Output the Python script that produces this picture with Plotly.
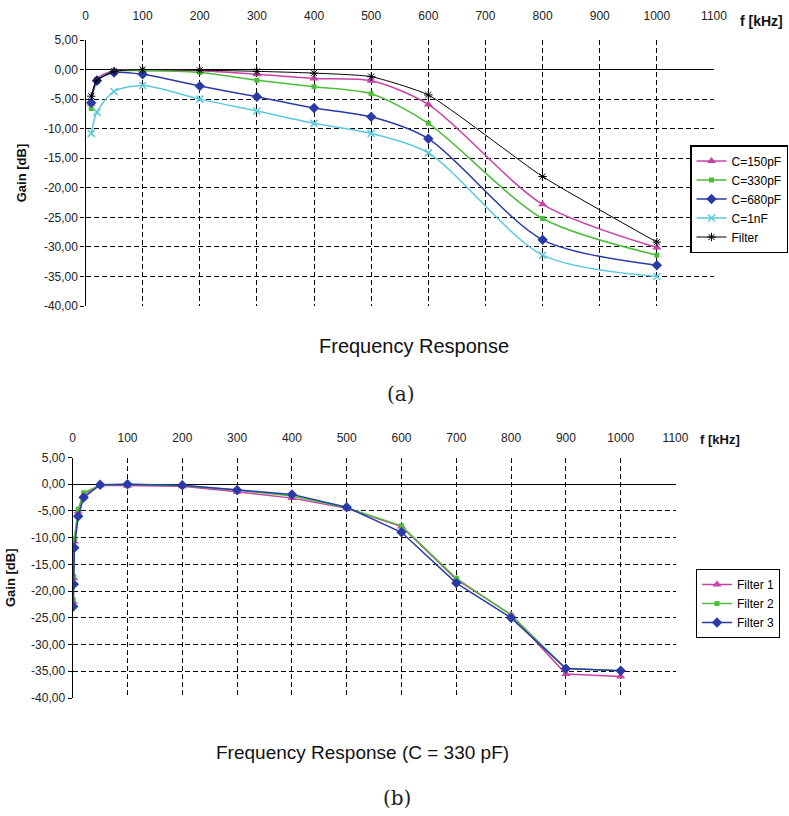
import plotly.graph_objects as go

# ---------------- data ----------------
freq_a = [10, 20, 50, 100, 200, 300, 400, 500, 600, 800, 1000]
gain_150pF = [-5.8, -1.6, -0.2, -0.1, -0.2, -0.8, -1.5, -1.9, -5.9, -22.8, -30.1]
gain_330pF = [-6.6, -2.0, -0.3, -0.2, -0.5, -1.8, -2.9, -4.1, -9.1, -25.2, -31.4]
gain_680pF = [-5.6, -1.9, -0.5, -0.8, -2.8, -4.6, -6.5, -8.0, -11.7, -28.8, -33.1]
gain_1nF = [-10.8, -7.2, -3.7, -2.7, -5.0, -7.0, -9.1, -10.8, -14.1, -31.4, -35.0]
gain_filter = [-4.5, -1.8, -0.3, 0.0, -0.1, -0.3, -0.6, -1.2, -4.3, -18.1, -29.2]

freq_b = [1, 2, 3, 10, 20, 50, 100, 200, 300, 400, 500, 600, 700, 800, 900, 1000]
gain_f1 = [-22.0, -17.6, -10.7, -5.1, -2.0, -0.2, -0.3, -0.4, -1.4, -2.6, -4.5, -7.9, -17.8, -24.4, -35.5, -36.0]
gain_f2 = [-21.6, -17.3, -10.2, -4.7, -1.6, -0.2, 0.0, -0.3, -1.1, -2.2, -4.4, -7.8, -17.6, -24.5, -34.5, -34.9]
gain_f3 = [-22.9, -18.7, -11.9, -6.0, -2.5, -0.1, 0.0, -0.2, -1.1, -1.9, -4.3, -9.0, -18.5, -25.0, -34.5, -34.9]

x_tick_vals = [0, 100, 200, 300, 400, 500, 600, 700, 800, 900, 1000, 1100]
x_tick_text = ["0", "100", "200", "300", "400", "500", "600", "700", "800", "900", "1000", "1100"]
x_grid_vals = [100, 200, 300, 400, 500, 600, 700, 800, 900, 1000]
y_tick_vals = [5, 0, -5, -10, -15, -20, -25, -30, -35, -40]
y_tick_text = ["5,00", "0,00", "-5,00", "-10,00", "-15,00", "-20,00", "-25,00", "-30,00", "-35,00", "-40,00"]
y_grid_vals = [-5, -10, -15, -20, -25, -30, -35]

# ---------------- geometry ----------------
W, H = 789, 816
FONT = "Arial, 'Liberation Sans', sans-serif"

def px_x(v):
    return v / W

def px_y(v):
    return 1 - v / H

dom_a_x = [px_x(85.5), px_x(714)]
dom_a_y = [px_y(306), px_y(40)]
dom_b_x = [px_x(72.7), px_x(675.5)]
dom_b_y = [px_y(698), px_y(457.5)]

MAG = "#C843A8"
GRN = "#4DBE3A"
BLU = "#2A3AA6"
CYN = "#5CC9DC"
GRID_DASH = "5px,3px"

fig = go.Figure()

# chart (a)
fig.add_trace(go.Scatter(x=freq_a, y=gain_150pF, name="C=150pF", mode="lines+markers",
                         line=dict(color=MAG, width=1.5, shape="spline", smoothing=0.8),
                         marker=dict(symbol="triangle-up", size=8, color=MAG),
                         xaxis="x", yaxis="y", legend="legend"))
fig.add_trace(go.Scatter(x=freq_a, y=gain_330pF, name="C=330pF", mode="lines+markers",
                         line=dict(color=GRN, width=1.5, shape="spline", smoothing=0.8),
                         marker=dict(symbol="square", size=5, color=GRN),
                         xaxis="x", yaxis="y", legend="legend"))
fig.add_trace(go.Scatter(x=freq_a, y=gain_680pF, name="C=680pF", mode="lines+markers",
                         line=dict(color=BLU, width=1.5, shape="spline", smoothing=0.8),
                         marker=dict(symbol="diamond", size=8, color=BLU),
                         xaxis="x", yaxis="y", legend="legend"))
fig.add_trace(go.Scatter(x=freq_a, y=gain_1nF, name="C=1nF", mode="lines+markers",
                         line=dict(color=CYN, width=1.5, shape="spline", smoothing=0.8),
                         marker=dict(symbol="x-thin-open", size=7, color=CYN, line=dict(color=CYN, width=1.5)),
                         xaxis="x", yaxis="y", legend="legend"))
fig.add_trace(go.Scatter(x=freq_a, y=gain_filter, name="Filter", mode="lines+markers",
                         line=dict(color="black", width=1, shape="spline", smoothing=0.5),
                         marker=dict(symbol="asterisk-open", size=7, color="black", line=dict(color="black", width=1)),
                         xaxis="x", yaxis="y", legend="legend"))

# chart (b)
fig.add_trace(go.Scatter(x=freq_b, y=gain_f1, name="Filter 1", mode="lines+markers",
                         line=dict(color=MAG, width=1.5),
                         marker=dict(symbol="triangle-up", size=8, color=MAG),
                         xaxis="x2", yaxis="y2", legend="legend2"))
fig.add_trace(go.Scatter(x=freq_b, y=gain_f2, name="Filter 2", mode="lines+markers",
                         line=dict(color=GRN, width=1.5),
                         marker=dict(symbol="square", size=5, color=GRN),
                         xaxis="x2", yaxis="y2", legend="legend2"))
fig.add_trace(go.Scatter(x=freq_b, y=gain_f3, name="Filter 3", mode="lines+markers",
                         line=dict(color=BLU, width=1.5),
                         marker=dict(symbol="diamond", size=8, color=BLU),
                         xaxis="x2", yaxis="y2", legend="legend2"))

# invisible carriers for the grid overlay axes
fig.add_trace(go.Scatter(x=[None], y=[None], xaxis="x3", yaxis="y3", showlegend=False, hoverinfo="skip"))
fig.add_trace(go.Scatter(x=[None], y=[None], xaxis="x4", yaxis="y4", showlegend=False, hoverinfo="skip"))

tickfont = dict(family=FONT, size=12, color="#222")

def main_x(domain, anchor, standoff):
    return dict(domain=domain, anchor=anchor, side="top", range=[0, 1100],
                tickmode="array", tickvals=x_tick_vals, ticktext=x_tick_text,
                showgrid=False, zeroline=False, showline=False, ticks="",
                ticklabelstandoff=standoff, tickfont=tickfont, automargin=False)

def main_y(domain, anchor, title_standoff):
    return dict(domain=domain, anchor=anchor, range=[-40, 5], automargin=False,
                tickmode="array", tickvals=y_tick_vals, ticktext=y_tick_text,
                showgrid=False, zeroline=True, zerolinecolor="black", zerolinewidth=1.3,
                showline=True, linecolor="black", linewidth=1.3,
                ticks="outside", ticklen=4, tickcolor="black",
                tickfont=tickfont,
                title=dict(text="<b>Gain [dB]</b>", font=dict(family=FONT, size=13, color="#111"),
                           standoff=title_standoff))

def grid_x(domain, overlay, anchor):
    return dict(domain=domain, overlaying=overlay, anchor=anchor, range=[0, 1100],
                tickmode="array", tickvals=x_grid_vals, showticklabels=False, ticks="",
                showgrid=True, gridcolor="black", griddash=GRID_DASH, gridwidth=1,
                zeroline=False, showline=False)

def grid_y(domain, overlay, anchor):
    return dict(domain=domain, overlaying=overlay, anchor=anchor, range=[-40, 5],
                tickmode="array", tickvals=y_grid_vals, showticklabels=False, ticks="",
                showgrid=True, gridcolor="black", griddash=GRID_DASH, gridwidth=1,
                zeroline=False, showline=False)

fig.update_layout(
    width=W, height=H,
    margin=dict(l=0, r=0, t=0, b=0, autoexpand=False),
    paper_bgcolor="white", plot_bgcolor="rgba(0,0,0,0)",
    font=dict(family=FONT, color="black"),
    xaxis=main_x(dom_a_x, "y", 17),
    yaxis=main_y(dom_a_y, "x", 14),
    xaxis2=main_x(dom_b_x, "y2", 12),
    yaxis2=main_y(dom_b_y, "x2", 12),
    xaxis3=grid_x(dom_a_x, "x", "y3"),
    yaxis3=grid_y(dom_a_y, "y", "x3"),
    xaxis4=grid_x(dom_b_x, "x2", "y4"),
    yaxis4=grid_y(dom_b_y, "y2", "x4"),
    legend=dict(x=px_x(690), y=px_y(145), xanchor="left", yanchor="top",
                bgcolor="white", bordercolor="black", borderwidth=1.5,
                font=dict(family=FONT, size=12, color="black"),
                itemwidth=30, tracegroupgap=0),
    legend2=dict(x=px_x(696), y=px_y(569), xanchor="left", yanchor="top",
                 bgcolor="white", bordercolor="black", borderwidth=1,
                 font=dict(family=FONT, size=12, color="black"),
                 itemwidth=30, tracegroupgap=0),
    annotations=[
        dict(text="<b>f [kHz]</b>", x=px_x(738), y=px_y(21), xref="paper", yref="paper",
             xanchor="left", yanchor="middle", showarrow=False,
             font=dict(family=FONT, size=14, color="#111")),
        dict(text="<b>f [kHz]</b>", x=px_x(698), y=px_y(439), xref="paper", yref="paper",
             xanchor="left", yanchor="middle", showarrow=False,
             font=dict(family=FONT, size=13, color="#111")),
        dict(text="Frequency Response", x=px_x(414), y=px_y(346), xref="paper", yref="paper",
             xanchor="center", yanchor="middle", showarrow=False,
             font=dict(family=FONT, size=20, color="#111")),
        dict(text="(a)", x=px_x(401), y=px_y(394), xref="paper", yref="paper",
             xanchor="center", yanchor="middle", showarrow=False,
             font=dict(family="DejaVu Serif", size=20, color="#222")),
        dict(text="Frequency Response (C = 330 pF)", x=px_x(362), y=px_y(752), xref="paper", yref="paper",
             xanchor="center", yanchor="middle", showarrow=False,
             font=dict(family=FONT, size=19, color="#111")),
        dict(text="(b)", x=px_x(397), y=px_y(798), xref="paper", yref="paper",
             xanchor="center", yanchor="middle", showarrow=False,
             font=dict(family="DejaVu Serif", size=20, color="#222")),
    ],
)

fig.write_html("out.html")
